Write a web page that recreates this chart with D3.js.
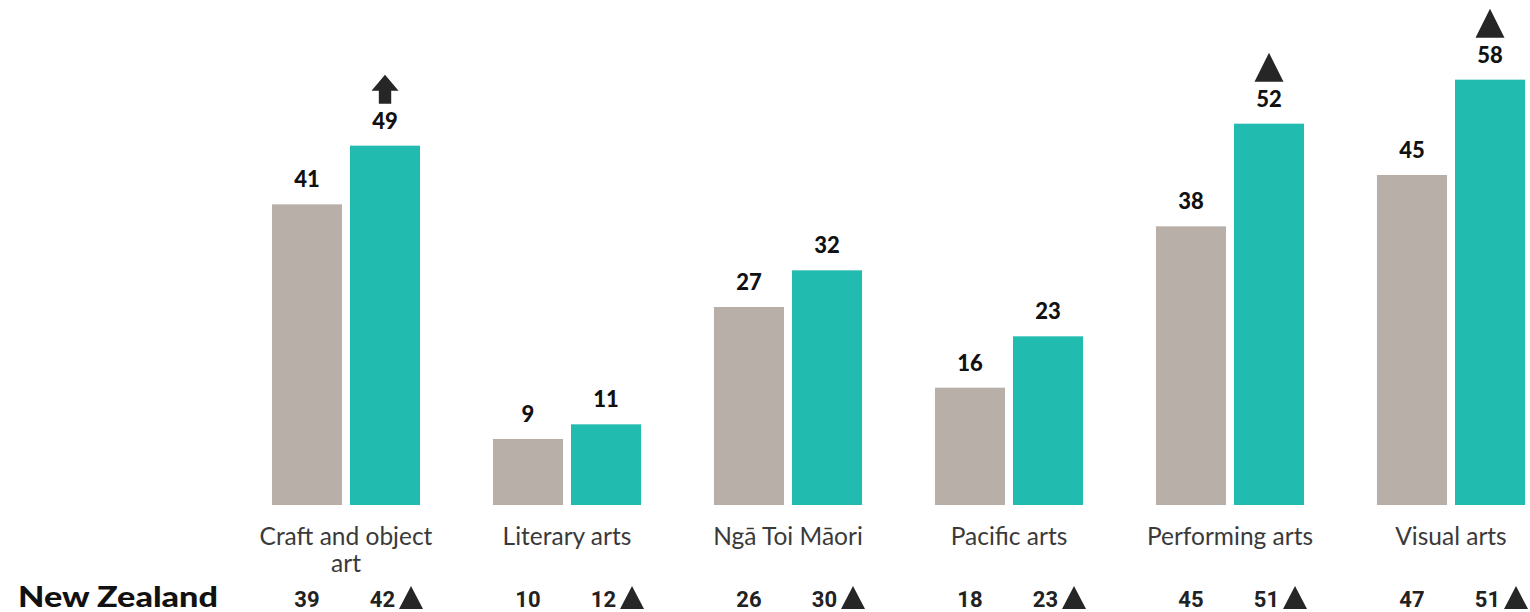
<!DOCTYPE html>
<html><head><meta charset="utf-8">
<script src="https://cdn.jsdelivr.net/npm/d3@7"></script>
<style>
html,body{margin:0;padding:0;background:#fff;overflow:hidden}
svg{display:block}
</style></head>
<body>
<script>
const categories = ["Craft and object art","Literary arts","Ngā Toi Māori","Pacific arts","Performing arts","Visual arts"];
const series = ["Group A","Group B"];
const greyValues = [41, 9, 27, 16, 38, 45];
const tealValues = [49, 11, 32, 23, 52, 58];
const tealMarkers = ["arrow", null, null, null, "triangle", "triangle"];
const nzLabel = "New Zealand";
const nzGrey = [39, 10, 26, 18, 45, 47];
const nzTeal = [42, 12, 30, 23, 51, 51];
const nzTealMarker = [true, true, true, true, true, true];

const W = 1530, H = 612;
const colors = ["#B8AFA9", "#21BBB0"];
const svg = d3.select("body").append("svg").attr("width", W).attr("height", H);

const x0 = d3.scaleBand().domain(categories).range([235.5, 1561.5]).paddingInner(0.33).paddingOuter(0.165);
const x1 = d3.scaleBand().domain(series).range([0, x0.bandwidth()]).paddingInner(0.1026);
const y = d3.scaleLinear().domain([0, 60]).range([505, 65]);

const data = categories.map((c, i) => ({cat: c, vals: [greyValues[i], tealValues[i]], marker: tealMarkers[i], nz: [nzGrey[i], nzTeal[i]], nzm: nzTealMarker[i]}));

const g = svg.selectAll("g.cat").data(data).join("g").attr("class", "cat")
  .attr("transform", d => `translate(${x0(d.cat)},0)`);

g.selectAll("rect").data(d => d.vals.map((v, j) => ({v, s: series[j], j}))).join("rect")
  .attr("x", d => x1(d.s)).attr("width", x1.bandwidth())
  .attr("y", d => y(d.v)).attr("height", d => y(0) - y(d.v))
  .attr("fill", d => colors[d.j]);

g.selectAll("text.val").data(d => d.vals.map((v, j) => ({v, s: series[j]}))).join("text")
  .attr("class", "val")
  .attr("x", d => x1(d.s) + x1.bandwidth() / 2).attr("y", d => y(d.v) - 17)
  .attr("text-anchor", "middle")
  .style("font-family", "Lato, 'Open Sans', sans-serif").style("font-weight", 900)
  .style("font-size", "22px").attr("fill", "#111").text(d => d.v);

// markers above teal bars
g.each(function(d) {
  if (!d.marker) return;
  const cx = x1(series[1]) + x1.bandwidth() / 2;
  const bottom = y(d.vals[1]) - 42;
  const sel = d3.select(this);
  if (d.marker === "triangle") {
    sel.append("path").attr("d", `M${cx - 14.5},${bottom} L${cx + 14.5},${bottom} L${cx},${bottom - 29} Z`).attr("fill", "#262626");
  } else {
    sel.append("path").attr("d",
      `M${cx - 6.2},${bottom} L${cx + 6.2},${bottom} L${cx + 6.2},${bottom - 13} L${cx + 13.5},${bottom - 13} L${cx},${bottom - 29} L${cx - 13.5},${bottom - 13} L${cx - 6.2},${bottom - 13} Z`).attr("fill", "#262626");
  }
});

// category labels with wrapping
g.append("text").attr("class", "cat-label")
  .attr("x", x0.bandwidth() / 2).attr("y", 545)
  .attr("text-anchor", "middle")
  .style("font-family", "Lato, 'Open Sans', sans-serif").style("font-size", "24.5px")
  .attr("fill", "#3a3a3a")
  .each(function(d) {
    const t = d3.select(this);
    const words = d.cat.split(" ");
    const maxW = 185;
    let line = [];
    let tspan = t.append("tspan").attr("x", x0.bandwidth() / 2).attr("dy", 0);
    words.forEach(w => {
      line.push(w);
      tspan.text(line.join(" "));
      if (tspan.node().getComputedTextLength() > maxW && line.length > 1) {
        line.pop();
        tspan.text(line.join(" "));
        line = [w];
        tspan = t.append("tspan").attr("x", x0.bandwidth() / 2).attr("dy", 27).text(w);
      }
    });
  });

// New Zealand row
svg.append("text").attr("x", 18).attr("y", 607)
  .attr("textLength", 200).attr("lengthAdjust", "spacingAndGlyphs")
  .style("font-family", "Lato, 'Open Sans', sans-serif").style("font-weight", 900).style("font-size", "28px")
  .attr("fill", "#111").text(nzLabel);

g.append("text").attr("x", x1(series[0]) + x1.bandwidth() / 2).attr("y", 607)
  .attr("text-anchor", "middle")
  .style("font-family", "'Liberation Sans Narrow', 'Roboto', sans-serif").style("font-weight", 700).style("font-size", "22px")
  .attr("fill", "#222").text(d => d.nz[0]);

g.append("text").attr("x", x1(series[1]) + x1.bandwidth() / 2 + 10).attr("y", 607)
  .attr("text-anchor", "end")
  .style("font-family", "'Liberation Sans Narrow', 'Roboto', sans-serif").style("font-weight", 700).style("font-size", "22px")
  .attr("fill", "#222").text(d => d.nz[1]);

g.filter(d => d.nzm).append("path")
  .attr("d", () => {
    const l = x1(series[1]) + x1.bandwidth() / 2 + 14;
    return `M${l},${609} L${l + 24},${609} L${l + 12},${586} Z`;
  }).attr("fill", "#262626");
</script>
</body></html>
